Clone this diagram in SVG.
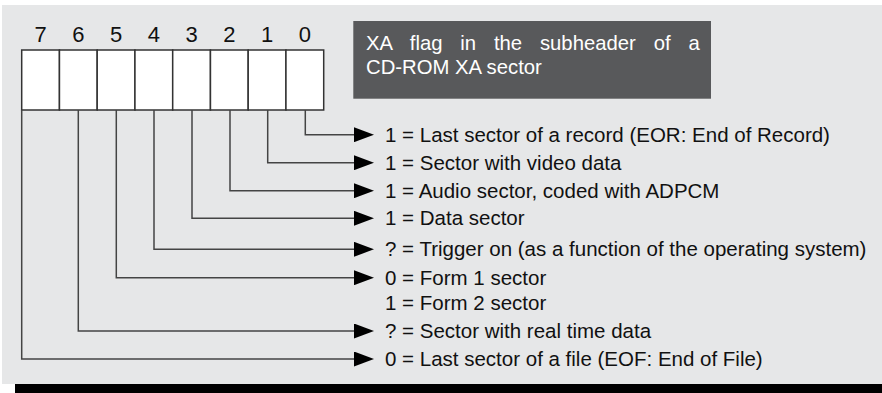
<svg xmlns="http://www.w3.org/2000/svg" width="882" height="393" viewBox="0 0 882 393">
<style>
.t{font-family:"Liberation Sans",Arial,sans-serif;font-size:20.5px;fill:#111}
.d{font-family:"Liberation Sans",Arial,sans-serif;font-size:22px;fill:#111;text-anchor:middle}
.h{font-family:"Liberation Sans",Arial,sans-serif;font-size:20.3px;fill:#fff}
.c{fill:#fff;stroke:#333;stroke-width:1.5}
.w{fill:none;stroke:#444;stroke-width:1.5}
</style>
<defs>
<marker id="ar" viewBox="0 0 20 15" refX="0" refY="7.5" markerWidth="20" markerHeight="15" markerUnits="userSpaceOnUse" orient="auto">
<path d="M0,0 L20,7.5 L0,15 Z" fill="#000"/>
</marker>
</defs>
<rect x="0" y="0" width="882" height="393" fill="#fff"/>
<rect x="2" y="5" width="880" height="379" fill="#e6e7e8"/>
<rect x="15" y="384" width="867" height="9" fill="#000"/>
<g id="register">
<rect class="c" x="21.7" y="50" width="37.75" height="60"/>
<rect class="c" x="59.45" y="50" width="37.75" height="60"/>
<rect class="c" x="97.2" y="50" width="37.75" height="60"/>
<rect class="c" x="134.95" y="50" width="37.75" height="60"/>
<rect class="c" x="172.7" y="50" width="37.75" height="60"/>
<rect class="c" x="210.45" y="50" width="37.75" height="60"/>
<rect class="c" x="248.2" y="50" width="37.75" height="60"/>
<rect class="c" x="285.95" y="50" width="37.75" height="60"/>
<text class="d" x="40.6" y="41.5">7</text>
<text class="d" x="78.3" y="41.5">6</text>
<text class="d" x="116.1" y="41.5">5</text>
<text class="d" x="153.8" y="41.5">4</text>
<text class="d" x="191.6" y="41.5">3</text>
<text class="d" x="229.3" y="41.5">2</text>
<text class="d" x="267.1" y="41.5">1</text>
<text class="d" x="304.8" y="41.5">0</text>
</g>
<g id="title">
<rect x="353.3" y="21" width="357.7" height="77.7" fill="#58595b"/>
<text class="h" x="366" y="50" word-spacing="12.2">XA flag in the subheader of a</text>
<text class="h" x="366" y="74">CD-ROM XA sector</text>
</g>
<g id="connectors">
<polyline class="w" points="305.3,110 305.3,134.7 354,134.7" marker-end="url(#ar)"/>
<polyline class="w" points="267.7,110 267.7,162.7 354,162.7" marker-end="url(#ar)"/>
<polyline class="w" points="230,110 230,190.7 354,190.7" marker-end="url(#ar)"/>
<polyline class="w" points="192,110 192,218.3 354,218.3" marker-end="url(#ar)"/>
<polyline class="w" points="154,110 154,249.3 354,249.3" marker-end="url(#ar)"/>
<polyline class="w" points="116.3,110 116.3,277.7 354,277.7" marker-end="url(#ar)"/>
<polyline class="w" points="78.3,110 78.3,331 354,331" marker-end="url(#ar)"/>
<polyline class="w" points="21.7,110 21.7,359 354,359" marker-end="url(#ar)"/>
</g>
<g id="labels">
<text class="t" x="385" y="141.7">1 = Last sector of a record (EOR: End of Record)</text>
<text class="t" x="385" y="169.7">1 = Sector with video data</text>
<text class="t" x="385" y="197.7">1 = Audio sector, coded with ADPCM</text>
<text class="t" x="385" y="225.3">1 = Data sector</text>
<text class="t" x="385" y="256.3">? = Trigger on (as a function of the operating system)</text>
<text class="t" x="385" y="285">0 = Form 1 sector</text>
<text class="t" x="385" y="309.5">1 = Form 2 sector</text>
<text class="t" x="385" y="338">? = Sector with real time data</text>
<text class="t" x="385" y="366">0 = Last sector of a file (EOF: End of File)</text>
</g>
</svg>
